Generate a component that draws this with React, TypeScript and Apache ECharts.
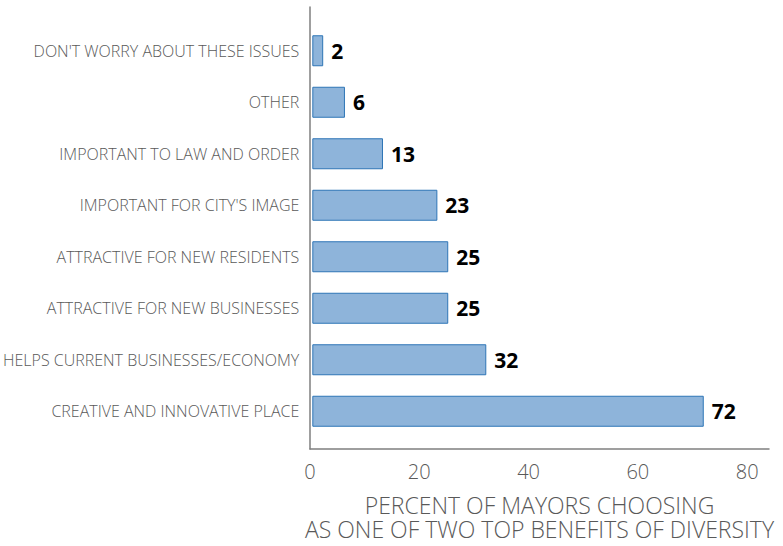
import React, { useEffect, useRef } from "react";
import * as echarts from "echarts";

const categories = [
  "DON'T WORRY ABOUT THESE ISSUES",
  "OTHER",
  "IMPORTANT TO LAW AND ORDER",
  "IMPORTANT FOR CITY'S IMAGE",
  "ATTRACTIVE FOR NEW RESIDENTS",
  "ATTRACTIVE FOR NEW BUSINESSES",
  "HELPS CURRENT BUSINESSES/ECONOMY",
  "CREATIVE AND INNOVATIVE PLACE",
];
const values = [2, 6, 13, 23, 25, 25, 32, 72];
const axisName = "PERCENT OF MAYORS CHOOSING\nAS ONE OF TWO TOP BENEFITS OF DIVERSITY";

const FONT = "'Open Sans', 'Noto Sans', sans-serif";

export default function App() {
  const ref = useRef<HTMLDivElement>(null);
  useEffect(() => {
    document.body.style.margin = "0";
    if (!ref.current) return;
    const chart = echarts.init(ref.current, undefined, { renderer: "svg" });
    chart.setOption({
      animation: false,
      textStyle: { fontFamily: FONT },
      grid: [
        { left: 310, right: 14, top: 25, height: 412, containLabel: false },
        { left: 310, right: 14, top: 7, bottom: 90, containLabel: false },
      ],
      xAxis: [
        {
          gridIndex: 0,
          type: "value",
          min: 0,
          max: 84,
          show: false,
        },
        {
          gridIndex: 1,
          type: "value",
          min: 0,
          max: 84,
          interval: 20,
          axisLine: { show: true, lineStyle: { color: "#7f7f7f", width: 1.5 } },
          axisTick: { show: false },
          splitLine: { show: false },
          axisLabel: {
            fontSize: 20,
            color: "#595959",
            fontFamily: FONT,
            fontWeight: 300,
            margin: 12,
            showMaxLabel: false,
          },
          name: axisName,
          nameLocation: "middle",
          nameGap: 44,
          nameTextStyle: {
            fontSize: 23,
            color: "#595959",
            fontFamily: FONT,
            fontWeight: 300,
            lineHeight: 24,
          },
        },
      ],
      yAxis: [
        {
          gridIndex: 0,
          type: "category",
          data: categories,
          inverse: true,
          axisLine: { show: false },
          axisTick: { show: false },
          axisLabel: {
            fontSize: 16,
            color: "#595959",
            fontFamily: FONT,
            fontWeight: 300,
            margin: 13,
          },
        },
        {
          gridIndex: 1,
          type: "value",
          min: 0,
          max: 1,
          axisLine: { show: true, lineStyle: { color: "#7f7f7f", width: 1.5 } },
          axisTick: { show: false },
          axisLabel: { show: false },
          splitLine: { show: false },
        },
      ],
      series: [
        {
          type: "bar",
          xAxisIndex: 0,
          yAxisIndex: 0,
          data: values,
          barWidth: 31,
          itemStyle: { color: "#8EB4DA", borderColor: "#2E75B6", borderWidth: 1 },
          label: {
            show: true,
            position: "right",
            distance: 8,
            fontSize: 21,
            fontWeight: "bold",
            color: "#000000",
            fontFamily: FONT,
          },
        },
      ],
    });
    return () => chart.dispose();
  }, []);
  return <div ref={ref} style={{ width: 783, height: 546 }} />;
}
